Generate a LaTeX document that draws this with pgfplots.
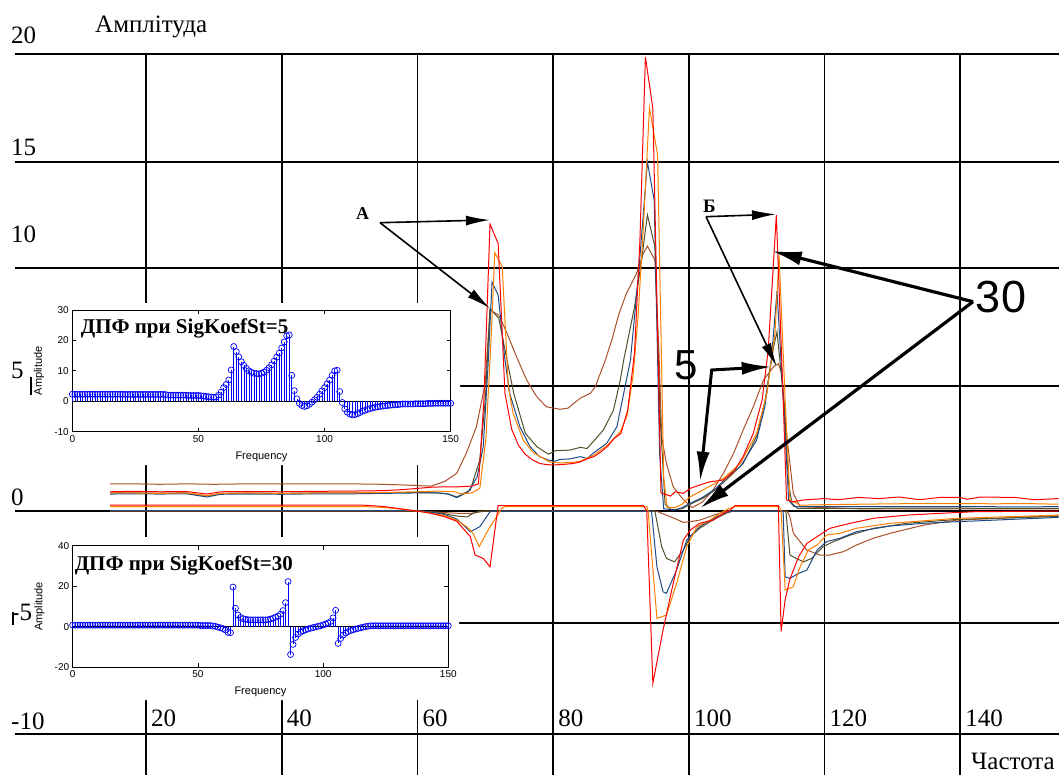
\documentclass[border=0pt]{standalone}
\usepackage{fontspec}
\setmainfont{Liberation Serif}
\newfontfamily\arialf{Liberation Sans}
\usepackage{pgfplots}
\pgfplotsset{compat=1.18}
\usepackage{pgfplotstable}
\usetikzlibrary{arrows.meta}

\definecolor{cRed}{RGB}{255,0,0}
\definecolor{cOrange}{RGB}{255,128,0}
\definecolor{cNavy}{RGB}{30,75,135}
\definecolor{cOlive}{RGB}{80,80,40}
\definecolor{cBrown}{RGB}{170,80,40}

% DFT, SigKoefSt=5
\pgfplotstableread[row sep=\\]{
x y\\
0 2.3\\ 1 2.3\\ 2 2.3\\ 3 2.3\\ 4 2.3\\ 5 2.3\\ 6 2.3\\ 7 2.3\\ 8 2.3\\ 9 2.3\\
10 2.3\\ 11 2.3\\ 12 2.3\\ 13 2.3\\ 14 2.3\\ 15 2.3\\ 16 2.3\\ 17 2.3\\ 18 2.3\\ 19 2.3\\
20 2.3\\ 21 2.25\\ 22 2.25\\ 23 2.25\\ 24 2.25\\ 25 2.25\\ 26 2.25\\ 27 2.25\\ 28 2.25\\ 29 2.25\\
30 2.25\\ 31 2.25\\ 32 2.25\\ 33 2.25\\ 34 2.25\\ 35 2.25\\ 36 2.25\\ 37 2.2\\ 38 2.0\\ 39 2.0\\
40 2.0\\ 41 2.0\\ 42 2.0\\ 43 2.0\\ 44 2.0\\ 45 2.0\\ 46 1.9\\ 47 1.9\\ 48 1.9\\ 49 1.9\\
50 1.9\\ 51 1.8\\ 52 1.7\\ 53 1.6\\ 54 1.5\\ 55 1.4\\ 56 1.3\\ 57 1.4\\ 58 2.0\\ 59 3.0\\
60 4.5\\ 61 5.5\\ 62 7.0\\ 63 10.3\\ 64 18.0\\ 65 16.3\\ 66 14.6\\ 67 13.0\\ 68 11.8\\ 69 10.8\\
70 10.0\\ 71 9.5\\ 72 9.2\\ 73 9.1\\ 74 9.0\\ 75 9.2\\ 76 9.6\\ 77 10.2\\ 78 11.0\\ 79 12.0\\
80 13.2\\ 81 14.5\\ 82 15.8\\ 83 17.5\\ 84 19.5\\ 85 21.5\\ 86 21.8\\ 87 8.5\\ 88 3.5\\ 89 0.8\\
90 -0.7\\ 91 -1.4\\ 92 -1.7\\ 93 -1.5\\ 94 -1.0\\ 95 -0.3\\ 96 0.5\\ 97 1.3\\ 98 2.3\\ 99 3.4\\
100 4.5\\ 101 5.7\\ 102 7.0\\ 103 8.5\\ 104 10.0\\ 105 10.2\\ 106 3.2\\ 107 -0.4\\ 108 -2.5\\ 109 -3.6\\
110 -4.2\\ 111 -4.5\\ 112 -4.4\\ 113 -4.1\\ 114 -3.7\\ 115 -3.3\\ 116 -3.0\\ 117 -2.7\\ 118 -2.4\\ 119 -2.2\\
120 -2.0\\ 121 -1.85\\ 122 -1.7\\ 123 -1.6\\ 124 -1.5\\ 125 -1.4\\ 126 -1.3\\ 127 -1.2\\ 128 -1.15\\ 129 -1.1\\
130 -1.0\\ 131 -0.9\\ 132 -0.9\\ 133 -0.9\\ 134 -0.9\\ 135 -0.9\\ 136 -0.8\\ 137 -0.8\\ 138 -0.8\\ 139 -0.8\\
140 -0.8\\ 141 -0.7\\ 142 -0.7\\ 143 -0.7\\ 144 -0.65\\ 145 -0.65\\ 146 -0.65\\ 147 -0.65\\ 148 -0.65\\ 149 -0.65\\ 150 -0.65\\
}\dftA

% DFT, SigKoefSt=30
\pgfplotstableread[row sep=\\]{
x y\\
0 0.8\\ 1 0.8\\ 2 0.8\\ 3 0.8\\ 4 0.8\\ 5 0.8\\ 6 0.8\\ 7 0.8\\ 8 0.8\\ 9 0.8\\
10 0.8\\ 11 0.8\\ 12 0.8\\ 13 0.8\\ 14 0.8\\ 15 0.8\\ 16 0.8\\ 17 0.8\\ 18 0.8\\ 19 0.8\\
20 0.8\\ 21 0.8\\ 22 0.8\\ 23 0.8\\ 24 0.8\\ 25 0.8\\ 26 0.8\\ 27 0.8\\ 28 0.8\\ 29 0.8\\
30 0.8\\ 31 0.8\\ 32 0.8\\ 33 0.8\\ 34 0.8\\ 35 0.8\\ 36 0.8\\ 37 0.8\\ 38 0.8\\ 39 0.8\\
40 0.8\\ 41 0.8\\ 42 0.8\\ 43 0.8\\ 44 0.8\\ 45 0.8\\ 46 0.8\\ 47 0.8\\ 48 0.8\\ 49 0.8\\
50 0.8\\ 51 0.6\\ 52 0.6\\ 53 0.6\\ 54 0.6\\ 55 0.6\\ 56 0.4\\ 57 0.2\\ 58 -0.2\\ 59 -0.5\\
60 -0.9\\ 61 -1.6\\ 62 -2.8\\ 63 -2.9\\ 64 19.6\\ 65 9.1\\ 66 5.8\\ 67 4.6\\ 68 4.0\\ 69 3.7\\
70 3.5\\ 71 3.4\\ 72 3.4\\ 73 3.4\\ 74 3.4\\ 75 3.4\\ 76 3.4\\ 77 3.4\\ 78 3.5\\ 79 3.8\\
80 4.2\\ 81 4.7\\ 82 5.3\\ 83 6.2\\ 84 8.0\\ 85 11.9\\ 86 22.3\\ 87 -13.7\\ 88 -8.7\\ 89 -5.3\\
90 -3.6\\ 91 -2.7\\ 92 -2.0\\ 93 -1.5\\ 94 -1.1\\ 95 -0.7\\ 96 -0.4\\ 97 -0.1\\ 98 0.2\\ 99 0.5\\
100 0.9\\ 101 1.3\\ 102 1.9\\ 103 2.6\\ 104 4.4\\ 105 8.1\\ 106 -8.2\\ 107 -5.8\\ 108 -4.1\\ 109 -3.1\\
110 -2.4\\ 111 -1.9\\ 112 -1.5\\ 113 -1.1\\ 114 -0.8\\ 115 -0.5\\ 116 -0.2\\ 117 0.1\\ 118 0.3\\ 119 0.5\\
120 0.5\\ 121 0.5\\ 122 0.5\\ 123 0.5\\ 124 0.5\\ 125 0.5\\ 126 0.5\\ 127 0.5\\ 128 0.5\\ 129 0.5\\
130 0.5\\ 131 0.5\\ 132 0.5\\ 133 0.5\\ 134 0.5\\ 135 0.5\\ 136 0.5\\ 137 0.5\\ 138 0.5\\ 139 0.5\\
140 0.5\\ 141 0.5\\ 142 0.5\\ 143 0.5\\ 144 0.5\\ 145 0.5\\ 146 0.5\\ 147 0.5\\ 148 0.5\\ 149 0.5\\ 150 0.5\\
}\dftB

\pgfplotsset{inset/.style={
  anchor=south west, scale only axis,
  xmin=0, xmax=150, xtick={0,50,100,150},
  tick align=inside, major tick length=4pt,
  axis line style={line width=0.9pt},
  tick style={black, line width=0.8pt},
  /pgf/number format/assume math mode=true,
  tick label style={font=\arialf\fontsize{10}{11}\selectfont},
  xlabel={\arialf\fontsize{11}{12}\selectfont Frequency},
  ylabel={\arialf\fontsize{11}{12}\selectfont Amplitude},
  every axis x label/.style={at={(axis description cs:0.5,-0.205)}, anchor=center},
  every axis y label/.style={at={(axis description cs:-0.088,0.5)}, anchor=center, rotate=90},
  clip=false,
}}

\begin{document}
\begin{tikzpicture}
\begin{axis}[
  set layers,
  at={(15pt,0pt)}, anchor=south west,
  scale only axis, width=1044pt, height=721pt,
  xmin=0.693, xmax=154.56, ymin=-11.645, ymax=20.165,
  clip=false,
  axis line style={draw=none},
  major tick length=0pt,
  xtick={20,40,60,80,100,120,140},
  xticklabels={20,40,60,80,100,120,140},
  ytick={-9.84,-4.94,0,5.51,10.72,15.39,20.16},
  yticklabels={\raisebox{-1pt}{-10},\raisebox{-3pt}{-5},0,\raisebox{2pt}{5},\raisebox{20pt}{10},\raisebox{1pt}{15},\raisebox{5pt}{20}},
  grid=major,
  major grid style={black, line width=1.8pt},
  xticklabel style={anchor=base west, inner sep=0pt, xshift=5pt, yshift=48pt, font=\fontsize{25}{28}\selectfont},
  yticklabel style={anchor=base west, inner sep=0pt, xshift=-4pt, yshift=6pt, font=\fontsize{25}{28}\selectfont},
]
% white backgrounds of the insets (above grid, below tick labels)
\addplot[draw=none, fill=white, on layer=axis ticks, forget plot] coordinates {(-2.25,2.03) (66.28,2.03) (66.28,9.175) (-2.25,9.175) (-2.25,2.03)};
\addplot[draw=none, fill=white, on layer=axis ticks, forget plot] coordinates {(-2.25,-8.337) (66.13,-8.337) (66.13,-1.147) (-2.25,-1.147) (-2.25,-8.337)};

% ---- lower family ----
\addplot[cBrown, line width=1pt] coordinates {(14.7,0.0) (60,0.0) (63,-0.05) (66,-0.1) (68,-0.1) (70,0.0) (95.2,0.0) (96.0,-0.1) (97.7,-0.3) (99.2,-0.5) (100.2,-0.47) (101.6,-0.4) (103.5,-0.2) (105.5,0.0) (114.5,0.0) (114.9,-0.25) (115.4,-0.98) (117.4,-1.72) (119.3,-1.94) (120.8,-1.94) (122.8,-1.79) (124.7,-1.5) (127.2,-1.2) (129.7,-0.98) (134.6,-0.62) (139.5,-0.4) (154.5,-0.2)};
\addplot[cOlive, line width=1pt] coordinates {(14.7,0.02) (60,0.02) (62,-0.05) (64,-0.12) (65.8,-0.22) (67.3,-0.26) (68.2,-0.1) (69.2,0.0) (95.0,0.0) (96.0,-1.57) (96.7,-2.09) (97.9,-2.24) (99.2,-1.72) (100.2,-1.13) (101.6,-0.76) (103.5,-0.4) (105.5,-0.1) (106.5,0.0) (114.3,0.0) (114.9,-1.94) (115.9,-2.1) (116.9,-2.24) (118.1,-2.09) (119.8,-1.57) (121.3,-1.35) (123.8,-1.06) (127.2,-0.76) (132.1,-0.54) (139.5,-0.37) (154.5,-0.24)};
\addplot[cNavy, line width=1pt] coordinates {(14.7,0.02) (60,0.02) (62,-0.05) (64,-0.15) (65.8,-0.35) (67.8,-0.91) (69.2,-0.69) (70.7,-0.03) (71.5,0.0) (94.5,0.0) (95.3,-2.46) (96.2,-3.56) (96.7,-3.63) (98.2,-2.6) (99.7,-1.28) (101.6,-0.69) (103.5,-0.35) (105.5,-0.05) (106.5,0.0) (113.9,0.0) (114.2,-2.9) (114.9,-2.97) (116.2,-2.75) (117.4,-2.6) (118.9,-1.72) (120.3,-1.35) (122.3,-1.2) (124.7,-0.91) (129.7,-0.66) (134.6,-0.54) (139.5,-0.47) (154.5,-0.28)};
\addplot[cOrange, line width=1pt] coordinates {(14.7,0.2) (52,0.2) (55,0.16) (57,0.1) (60,0.0) (62,-0.1) (64,-0.2) (65.8,-0.4) (67.3,-0.7) (68.2,-0.98) (69.1,-1.57) (70.7,-0.69) (71.7,-0.25) (72.4,0.12) (73,0.2) (93.8,0.2) (94.0,0.0) (95.3,-4.73) (96.7,-4.59) (98.2,-3.19) (99.7,-1.57) (101.2,-0.69) (103.1,-0.4) (104.6,-0.1) (105.8,0.1) (106.8,0.2) (113.3,0.2) (113.6,0.0) (114.2,-3.48) (115.4,-3.34) (116.4,-2.46) (117.6,-1.72) (118.9,-1.5) (120.3,-1.06) (122.3,-0.98) (124.7,-0.76) (129.7,-0.54) (134.6,-0.43) (139.5,-0.32) (154.5,-0.18)};
\addplot[cRed, line width=1pt] coordinates {(14.7,0.26) (52,0.26) (55,0.2) (57,0.12) (60,0.0) (62,-0.1) (64,-0.25) (65.8,-0.45) (67.8,-1.13) (68.5,-1.94) (69.7,-2.09) (70.7,-2.46) (71.9,0.24) (93.3,0.24) (93.8,0.0) (94.7,-7.6) (96.2,-5.25) (97.7,-3.19) (99.2,-1.28) (100.2,-0.84) (101.6,-0.54) (103.6,-0.4) (105.1,-0.1) (106.1,0.04) (106.8,0.24) (113.2,0.24) (113.6,-5.32) (114.2,-3.9) (114.9,-3.0) (116.2,-2.0) (117.4,-1.43) (118.9,-1.13) (120.8,-0.76) (123.8,-0.54) (127.2,-0.32) (132.1,-0.18) (137,-0.1) (142,-0.03) (154.5,0.0)};

% ---- upper family ----
\addplot[cBrown, line width=1pt] coordinates {(14.7,1.2) (18,1.2) (22,1.18) (26,1.2) (30,1.18) (35,1.2) (40,1.2) (45,1.2) (50,1.2) (55,1.18) (58,1.15) (62,1.1) (64,1.3) (65.8,1.67) (67.2,2.55) (68.7,3.72) (70.0,5.64) (70.7,8.87) (72.0,8.64) (73.2,7.85) (74.6,6.81) (76.1,5.78) (77.6,5.04) (79.0,4.6) (81.0,4.49) (82.2,4.54) (84.0,4.98) (85.5,5.2) (86.2,5.48) (87.7,6.66) (88.7,7.6) (89.7,8.7) (90.8,9.6) (92.3,10.48) (93.3,11.37) (93.9,11.69) (95.0,11.07) (95.6,7.0) (96.0,3.28) (96.7,2.1) (97.7,1.07) (99.2,0.5) (100.5,0.15) (102,0.4) (103.5,0.9) (105.1,1.66) (106.6,2.55) (108.0,3.57) (109.5,4.6) (111.0,5.78) (112.5,6.37) (113.2,6.5) (113.7,6.07) (114.4,3.43) (115.4,0.78) (116.4,0.19) (125,0.1) (140,0.1) (154.5,0.1)};
\addplot[cOlive, line width=1pt] coordinates {(14.7,0.8) (18,0.8) (22,0.79) (26,0.8) (29,0.66) (31,0.78) (35,0.79) (40,0.78) (45,0.8) (50,0.8) (55,0.8) (60,0.82) (63,0.8) (64.5,0.76) (65.8,0.62) (67.8,0.93) (69.2,2.25) (70.0,4.9) (70.7,8.94) (72.0,8.5) (73.2,6.66) (74.2,5.19) (75.9,3.43) (77.6,2.84) (79.3,2.51) (80.3,2.66) (82.5,2.69) (84,2.81) (85,2.76) (85.9,3.06) (87.4,3.57) (88.9,4.46) (89.9,5.78) (90.4,6.66) (92,9.0) (93.0,11.0) (93.9,13.06) (95.0,11.66) (95.8,4.0) (96.5,0.3) (97.5,0.05) (99,0.1) (100.2,0.3) (102,0.55) (104,0.95) (106.3,1.6) (108,2.1) (110,3.3) (111.2,4.8) (112.5,7.25) (113.0,7.91) (114.0,4.9) (114.7,1.22) (115.2,0.34) (116,0.12) (125,0.12) (135,0.13) (145,0.12) (154.5,0.12)};
\addplot[cNavy, line width=1pt] coordinates {(14.7,0.75) (18,0.76) (22,0.75) (26,0.76) (29,0.62) (31,0.74) (35,0.75) (40,0.74) (45,0.76) (50,0.76) (55,0.78) (60,0.8) (63,0.8) (64.5,0.75) (65.8,0.59) (67.5,0.85) (68.8,1.5) (69.7,2.84) (70.4,6.37) (71.0,10.1) (71.9,9.53) (72.9,6.66) (73.6,5.19) (75.1,3.72) (76.6,2.84) (78,2.4) (79.3,2.25) (80.2,2.2) (81.1,2.28) (82.5,2.3) (84,2.4) (85,2.32) (85.9,2.55) (87.9,2.99) (89.4,3.72) (90.4,5.19) (91.4,6.66) (92.6,10.5) (93.9,15.4) (94.9,13.7) (95.7,2.5) (96.3,0.1) (98,0.05) (99,0.15) (100.2,0.34) (102,0.6) (104,1.0) (106.3,1.7) (107.6,1.96) (110,3.13) (111.2,4.6) (112.2,6.81) (113.0,9.7) (114.2,3.43) (114.7,0.49) (115.5,0.2) (120,0.19) (130,0.2) (140,0.2) (150,0.18) (154.5,0.2)};
\addplot[cOrange, line width=1pt] coordinates {(14.7,0.8) (18,0.8) (22,0.78) (26,0.8) (29,0.68) (31,0.78) (35,0.8) (40,0.78) (45,0.8) (50,0.8) (55,0.82) (60,0.85) (63,0.88) (65.5,0.85) (66.5,0.75) (68,0.8) (69.2,1.0) (70.1,3.2) (70.9,7.85) (71.4,11.4) (72.5,10.78) (73.4,5.48) (74.1,4.31) (75.6,3.13) (77,2.6) (78.1,2.4) (79.5,2.17) (81,2.12) (83,2.15) (84,2.2) (85.9,2.45) (88,2.9) (89.9,3.5) (90.9,4.2) (91.8,6.0) (92.5,8.5) (93.3,12.5) (94.2,17.8) (95.4,15.7) (96.3,1.5) (96.8,0.15) (98,0.15) (99,0.3) (100.2,0.63) (102.1,0.93) (105.1,1.44) (107.6,2.1) (110.0,3.43) (111.5,5.19) (112.7,7.85) (113.3,11.29) (114.2,4.9) (114.9,0.49) (116.4,0.26) (120,0.28) (125,0.3) (130,0.32) (135,0.33) (140,0.33) (145,0.32) (150,0.33) (154.5,0.3)};
\addplot[cRed, line width=1pt] coordinates {(14.7,0.85) (18,0.87) (22,0.85) (26,0.86) (29,0.75) (31,0.85) (35,0.86) (40,0.85) (45,0.87) (50,0.88) (55,0.9) (58,0.95) (60,1.0) (62,1.05) (64,1.07) (66,1.07) (68,1.1) (69,1.2) (69.8,4.9) (70.7,12.66) (71.9,11.8) (72.9,5.2) (73.9,3.6) (74.9,2.9) (75.9,2.5) (77,2.25) (78,2.1) (79,2.05) (80,2.03) (81,2.05) (82,2.07) (83,2.1) (84,2.17) (85,2.3) (86,2.4) (87,2.6) (88,2.85) (89,3.2) (90,3.43) (91,4.46) (92,7.0) (92.8,12.0) (93.6,20.04) (94.7,17.76) (95.9,0.8) (97.3,0.66) (98,0.85) (99.2,0.78) (100.2,1.0) (101.6,1.15) (103.1,1.29) (105.1,1.37) (106.6,1.73) (108.0,2.4) (109.5,3.43) (110.8,4.9) (111.7,7.1) (112.9,13.06) (113.9,5.0) (114.4,0.49) (115.4,0.41) (116.9,0.49) (120,0.55) (122,0.5) (125,0.6) (128,0.55) (131,0.62) (134,0.5) (137,0.6) (140,0.6) (141,0.52) (143,0.62) (148,0.6) (151,0.5) (154.5,0.55)};
\end{axis}

% ---- inset 1 ----
\begin{axis}[inset, at={(72.3pt,343.3pt)}, width=378.4pt, height=121.7pt,
  ymin=-10, ymax=30, ytick={-10,0,10,20,30}]
\addplot[black, line width=0.9pt, forget plot] coordinates {(0,0) (150,0)};
\addplot[blue, line width=0.6pt, ycomb, mark=o, mark size=3pt, mark options={line width=0.7pt}] table {\dftA};
\node[anchor=north west, inner sep=0pt, font=\bfseries\fontsize{21}{24}\selectfont] at (rel axis cs:0.022,0.93) {ДПФ при SigKoefSt=5};
\end{axis}

% ---- inset 2 ----
\begin{axis}[inset, at={(72.7pt,107.7pt)}, width=375.6pt, height=121.6pt,
  ymin=-20, ymax=40, ytick={-20,0,20,40}]
\addplot[black, line width=0.9pt, forget plot] coordinates {(0,0) (150,0)};
\addplot[blue, line width=0.6pt, ycomb, mark=o, mark size=3pt, mark options={line width=0.7pt}] table {\dftB};
\node[anchor=north west, inner sep=0pt, font=\bfseries\fontsize{21}{24}\selectfont] at (rel axis cs:0.005,0.92) {ДПФ при SigKoefSt=30};
\end{axis}

% ---- annotations ----
\node[anchor=base west, inner sep=0pt, font=\fontsize{25}{28}\selectfont] at (95pt,742pt) {Амплітуда};
\node[anchor=base west, inner sep=0pt, font=\fontsize{25}{28}\selectfont] at (971pt,5pt) {Частота};
\draw[line width=1.5pt] (31pt,380pt) -- (31pt,398pt);
\draw[line width=1.5pt] (13pt,150pt) -- (13pt,163pt);

\node[inner sep=0pt, font=\bfseries\fontsize{18}{20}\selectfont] at (362.5pt,561.7pt) {А};
\draw[line width=1.6pt, -{Latex[length=24pt,width=10pt]}] (380pt,552.3pt) -- (490pt,555pt);
\draw[line width=1.6pt, -{Latex[length=24pt,width=10pt]}] (380pt,552.3pt) -- (490pt,466.7pt);

\node[inner sep=0pt, font=\bfseries\fontsize{19}{21}\selectfont] at (709.3pt,568.7pt) {Б};
\draw[line width=1.6pt, -{Latex[length=24pt,width=10pt]}] (706pt,558.3pt) -- (776pt,560.7pt);
\draw[line width=1.6pt, -{Latex[length=24pt,width=10pt]}] (706pt,558.3pt) -- (776.7pt,408.3pt);

\node[inner sep=0pt, font=\arialf\fontsize{45}{50}\selectfont] at (1001pt,478.3pt) {30};
\draw[line width=3.2pt, -{Latex[length=30pt,width=14pt]}] (973pt,473.3pt) -- (771.7pt,524pt);
\draw[line width=3.2pt, -{Latex[length=30pt,width=14pt]}] (973pt,473.3pt) -- (700pt,266.7pt);

\node[inner sep=0pt, font=\arialf\fontsize{42}{46}\selectfont] at (686.5pt,410pt) {5};
\draw[line width=3pt, {Latex[length=30pt,width=13pt]}-{Latex[length=30pt,width=13pt]}] (700pt,293.3pt) -- (711.7pt,405pt) -- (771.7pt,408.3pt);

\pgfresetboundingbox
\useasboundingbox (0pt,0pt) rectangle (1059pt,775pt);
\end{tikzpicture}
\end{document}
